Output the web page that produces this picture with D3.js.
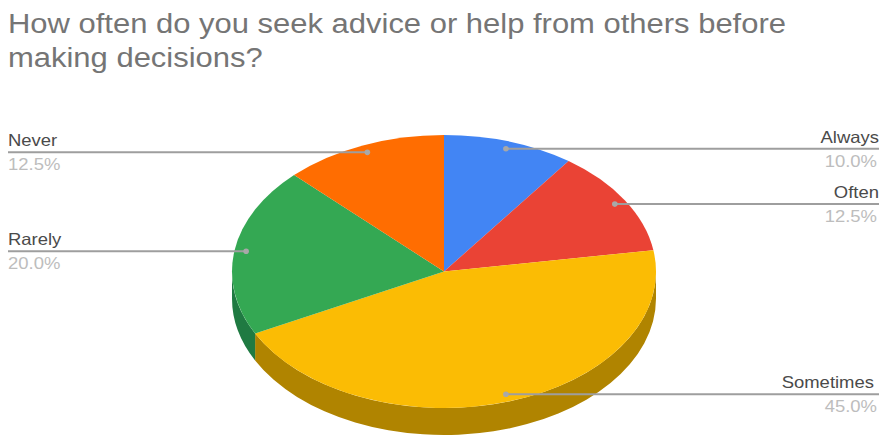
<!DOCTYPE html>
<html>
<head>
<meta charset="utf-8">
<script src="https://d3js.org/d3.v7.min.js"></script>
<style>
  html, body { margin: 0; padding: 0; background: #fff; }
  svg { display: block; }
  text { font-family: "Liberation Sans", Arial, sans-serif; }
</style>
</head>
<body>
<svg id="chart" width="882" height="436"></svg>
<script>
// Survey answers, in drawing order clockwise from twelve o'clock
const categories = ["Always", "Often", "Sometimes", "Rarely", "Never"];
const shares = [10.0, 12.5, 45.0, 20.0, 12.5];
const topColors = ["#4285f4", "#ea4335", "#fbbc04", "#34a853", "#ff6d01"];
const wallColors = ["#2e5daa", "#a32e25", "#b08400", "#1f7a42", "#b24c00"];
const titleLines = [
  "How often do you seek advice or help from others before",
  "making decisions?"
];

const width = 882, height = 436;
const cx = 444, cy = 271.5, rx = 212, ry = 136.5, depth = 27;
const anchorRatio = 0.945;
const leftEdge = 8, rightEdge = 879;

const svg = d3.select("#chart");

// Text is drawn wider than its nominal size to suit the wide layout
function stretchedText(x, y, str, size, stretch, fill, anchor) {
  svg.append("text")
    .attr("transform", `translate(${x},${y}) scale(${stretch},1)`)
    .attr("text-anchor", anchor)
    .attr("font-size", size)
    .attr("fill", fill)
    .text(str);
}

// Title
titleLines.forEach((line, i) => {
  stretchedText(leftEdge, 32.5 + i * 34.5, line, 27, 1.147, "#757575", "start");
});

const pie = d3.pie().value(d => d).sort(null);
const arcs = pie(shares);

// Point on the tilted rim for an angle measured clockwise from the top
const rimX = (a, k = 1) => cx + rx * k * Math.sin(a);
const rimY = (a, k = 1) => cy - ry * k * Math.cos(a);

// Side wall: only the part of each slice that faces the viewer (90° to 270°)
const wallFrom = Math.PI / 2, wallTo = 3 * Math.PI / 2;
arcs.forEach((d, i) => {
  const a0 = Math.max(d.startAngle, wallFrom);
  const a1 = Math.min(d.endAngle, wallTo);
  if (a1 <= a0) return;
  const path = [
    `M${rimX(a0)},${rimY(a0)}`,
    `A${rx},${ry} 0 0 1 ${rimX(a1)},${rimY(a1)}`,
    `L${rimX(a1)},${rimY(a1) + depth}`,
    `A${rx},${ry} 0 0 0 ${rimX(a0)},${rimY(a0) + depth}`,
    "Z"
  ].join("");
  svg.append("path").attr("d", path).attr("fill", wallColors[i]);
});

// Top face: a flat pie squashed vertically into an ellipse
const arcGen = d3.arc().innerRadius(0).outerRadius(rx);
svg.append("g")
  .attr("transform", `translate(${cx},${cy}) scale(1,${ry / rx})`)
  .selectAll("path")
  .data(arcs)
  .join("path")
  .attr("d", arcGen)
  .attr("fill", (d, i) => topColors[i]);

// Leader lines, anchor dots and labels
const labelSize = 16.5, labelStretch = 1.12;
arcs.forEach((d, i) => {
  const mid = (d.startAngle + d.endAngle) / 2;
  const px = rimX(mid, anchorRatio);
  const py = rimY(mid, anchorRatio);
  const onRight = mid < Math.PI;
  const endX = onRight ? rightEdge : leftEdge;
  const anchor = onRight ? "end" : "start";

  svg.append("line")
    .attr("x1", px).attr("y1", py)
    .attr("x2", endX).attr("y2", py)
    .attr("stroke", "#9e9e9e")
    .attr("stroke-width", 2);
  svg.append("circle")
    .attr("cx", px).attr("cy", py).attr("r", 2.8)
    .attr("fill", "#a8a8a8");

  // The longest right-hand name sits a little further in from the edge
  const nameX = categories[i].length > 8 ? endX - 5 : endX;
  const valueX = onRight ? endX - 2 : endX;
  stretchedText(nameX, py - 6, categories[i], labelSize, labelStretch, "#4a4a4a", anchor);
  stretchedText(valueX, py + 18, d3.format(".1f")(shares[i]) + "%", labelSize, labelStretch, "#bdbdbd", anchor);
});
</script>
</body>
</html>
